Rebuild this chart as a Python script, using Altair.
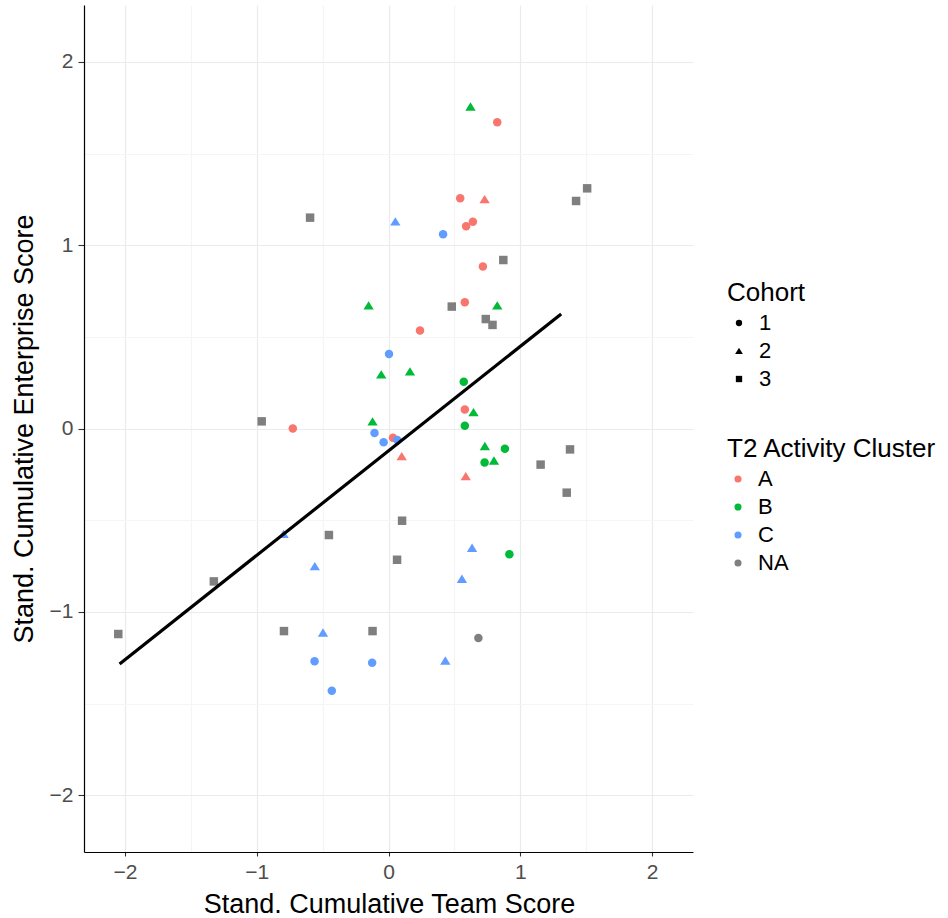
import altair as alt
import pandas as pd

# ---- data ----
team_score = [
    # cohort 1, cluster A
    0.825, 0.544, 0.640, 0.589, 0.716, 0.579, 0.239, 0.579, -0.726, 0.034,
    # cohort 1, cluster B
    0.571, 0.579, 0.883, 0.729, 0.917,
    # cohort 1, cluster C
    0.414, 0.004, -0.106, -0.037, 0.067, -0.561, -0.124, -0.430,
    # cohort 1, NA
    0.682,
    # cohort 2, cluster A
    0.729, 0.100, 0.586,
    # cohort 2, cluster B
    0.622, -0.151, 0.825, -0.055, 0.163, 0.645, -0.121, 0.731, 0.800,
    # cohort 2, cluster C
    0.052, -0.796, 0.634, -0.559, 0.557, -0.497, 0.431,
    # cohort 3, NA
    -0.595, 1.507, 1.423, 0.871, 0.480, 0.738, 0.789, -0.962, 1.377, 1.154,
    1.352, 0.103, -0.452, 0.065, -1.325, -2.050, -0.793, -0.121,
]
enterprise_score = [
    1.670, 1.256, 1.128, 1.103, 0.883, 0.688, 0.534, 0.103, 0.000, -0.050,
    0.255, 0.015, -0.110, -0.185, -0.686,
    1.060, 0.406, -0.025, -0.075, -0.063, -1.270, -1.278, -1.430,
    -1.143,
    1.250, -0.152, -0.261,
    1.755, 0.670, 0.670, 0.294, 0.310, 0.088, 0.037, -0.097, -0.176,
    1.128, -0.576, -0.652, -0.752, -0.821, -1.114, -1.267,
    1.150, 1.310, 1.241, 0.919, 0.665, 0.597, 0.565, 0.039, -0.114, -0.197,
    -0.350, -0.503, -0.581, -0.716, -0.834, -1.121, -1.105, -1.105,
]
cohort = (["1"] * 24) + (["2"] * 19) + (["3"] * 18)
cluster = (["A"] * 10 + ["B"] * 5 + ["C"] * 8 + ["NA"] * 1
           + ["A"] * 3 + ["B"] * 9 + ["C"] * 7
           + ["NA"] * 18)

# fitted line end points
line_x = [-2.04, 1.31]
line_y = [-1.285, 0.625]

grid_values = [-2, -1.5, -1, -0.5, 0, 0.5, 1, 1.5, 2]
cluster_levels = ["A", "B", "C", "NA"]
cluster_colors = ["#F8766D", "#00BA38", "#619CFF", "#7F7F7F"]
cohort_levels = ["1", "2", "3"]
TRIANGLE = "M0,-1.05L1.22,0.92L-1.22,0.92Z"
cohort_shapes = ["circle", TRIANGLE, "square"]

df = pd.DataFrame({
    "team": team_score,
    "enterprise": enterprise_score,
    "cohort": cohort,
    "cluster": cluster,
})
line_df = pd.DataFrame({"team": line_x, "enterprise": line_y})

FONT = "Liberation Sans"
x_scale = alt.Scale(domain=[-2.31, 2.31], nice=False, zero=False)
y_scale = alt.Scale(domain=[-2.31, 2.31], nice=False, zero=False)

label_expr = "datum.value % 1 === 0 ? replace(format(datum.value, 'd'), '-', '\u2212') : ''"
grid_color = {"condition": {"test": "datum.value % 1 !== 0", "value": "#F5F5F5"}, "value": "#EBEBEB"}
tick_opacity = {"condition": {"test": "datum.value % 1 !== 0", "value": 0}, "value": 1}

x_axis = alt.Axis(
    values=grid_values, labelExpr=label_expr, gridColor=grid_color, tickOpacity=tick_opacity,
    labelOverlap=False, labelFlush=False, tickSize=4, labelPadding=5,
    titleX=305, titleY=60, titleBaseline="alphabetic", titleAlign="center",
)
y_axis = alt.Axis(
    values=grid_values, labelExpr=label_expr, gridColor=grid_color, tickOpacity=tick_opacity,
    labelOverlap=False, labelFlush=False, tickSize=6, labelPadding=5,
    titleX=-52, titleY=423.5, titleAngle=270, titleBaseline="alphabetic", titleAlign="center",
)

common_legend = dict(
    orient="none", padding=0, titleFontSize=26, labelFontSize=22,
    titleFont=FONT, labelFont=FONT, titleFontWeight="normal",
    titleColor="black", labelColor="black", rowPadding=6, titlePadding=6,
    labelOffset=9, titleLimit=0, labelLimit=0,
)

points = alt.Chart(df).mark_point(filled=True, opacity=1, strokeWidth=0, size=72).encode(
    x=alt.X("team:Q", scale=x_scale, axis=x_axis, title="Stand. Cumulative Team Score"),
    y=alt.Y("enterprise:Q", scale=y_scale, axis=y_axis, title="Stand. Cumulative Enterprise Score"),
    shape=alt.Shape(
        "cohort:N",
        scale=alt.Scale(domain=cohort_levels, range=cohort_shapes),
        legend=alt.Legend(title="Cohort", legendX=643, legendY=275,
                          symbolFillColor="black", symbolStrokeWidth=0, symbolSize=40,
                          symbolOffset=1, **common_legend),
    ),
    color=alt.Color(
        "cluster:N",
        scale=alt.Scale(domain=cluster_levels, range=cluster_colors),
        legend=alt.Legend(title="T2 Activity Cluster", legendX=643, legendY=431,
                          symbolType="circle", symbolSize=50, symbolStrokeWidth=0,
                          symbolOffset=0, **common_legend),
    ),
)

line = alt.Chart(line_df).mark_line(color="black", strokeWidth=3.2).encode(
    x=alt.X("team:Q", scale=x_scale),
    y=alt.Y("enterprise:Q", scale=y_scale),
)

chart = alt.layer(points, line).properties(
    width=609, height=847,
    padding={"left": 84, "top": 5, "right": 255, "bottom": 66},
    autosize=alt.AutoSizeParams(type="none"),
    background="white",
).configure_view(stroke=None).configure_axis(
    domainColor="black", domainWidth=1.2, tickColor="#333333", tickWidth=1.1,
    labelColor="#4D4D4D", labelFontSize=21, labelFont=FONT,
    titleFontSize=27, titleFont=FONT, titleFontWeight="normal", titleColor="black",
    gridWidth=1.2,
)

chart.save("out.html", embed_options={"renderer": "svg", "actions": False})
